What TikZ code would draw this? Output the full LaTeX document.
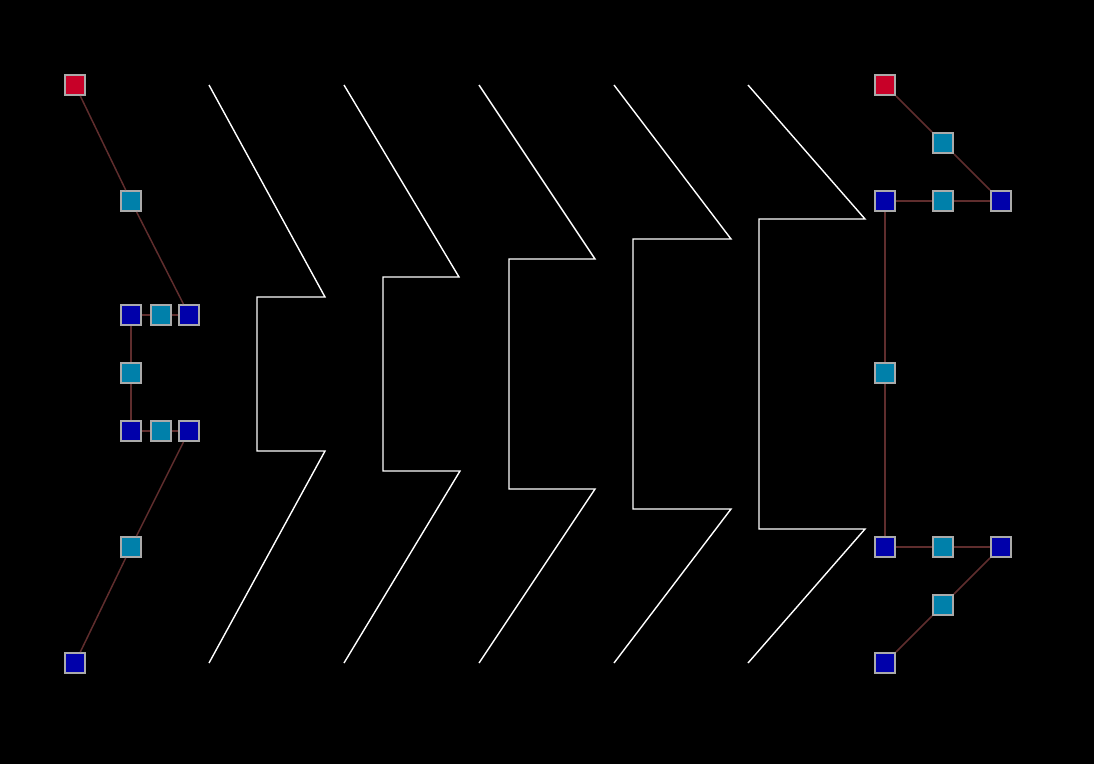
\documentclass[tikz,border=0pt]{standalone}
\definecolor{sqred}{RGB}{200,0,40}
\definecolor{sqteal}{RGB}{0,128,170}
\definecolor{sqblue}{RGB}{0,0,170}
\definecolor{sqgray}{RGB}{170,170,170}
\definecolor{edgebrown}{RGB}{95,45,45}
\tikzset{
  sq/.style={rectangle, draw=sqgray, line width=2.4pt, minimum size=19.6pt, inner sep=0pt},
  rsq/.style={sq, fill=sqred},
  tsq/.style={sq, fill=sqteal},
  bsq/.style={sq, fill=sqblue},
  link/.style={draw=edgebrown, line width=1.5pt},
  zig/.style={draw=white, line width=1.4pt, line join=miter}
}
\begin{document}
\begin{tikzpicture}[x=1pt,y=-1pt]
\fill[black] (0,0) rectangle (1094,764);
\useasboundingbox (0,0) rectangle (1094,764);
% left structure
\node[rsq] (l1) at (75,85) {};
\node[tsq] (l2) at (131,201) {};
\node[bsq] (l3) at (131,315) {};
\node[tsq] (l4) at (161,315) {};
\node[bsq] (l5) at (189,315) {};
\node[tsq] (l6) at (131,373) {};
\node[bsq] (l7) at (131,431) {};
\node[tsq] (l8) at (161,431) {};
\node[bsq] (l9) at (189,431) {};
\node[tsq] (l10) at (131,547) {};
\node[bsq] (l11) at (75,663) {};
\draw[link] (l1) -- (l2);
\draw[link] (l2) -- (l5);
\draw[link] (l3) -- (l4);
\draw[link] (l4) -- (l5);
\draw[link] (l3) -- (l6);
\draw[link] (l6) -- (l7);
\draw[link] (l7) -- (l8);
\draw[link] (l8) -- (l9);
\draw[link] (l9) -- (l10);
\draw[link] (l10) -- (l11);
% right structure
\node[rsq] (r1) at (885,85) {};
\node[tsq] (r2) at (943,143) {};
\node[bsq] (r3) at (885,201) {};
\node[tsq] (r4) at (943,201) {};
\node[bsq] (r5) at (1001,201) {};
\node[tsq] (r6) at (885,373) {};
\node[bsq] (r7) at (885,547) {};
\node[tsq] (r8) at (943,547) {};
\node[bsq] (r9) at (1001,547) {};
\node[tsq] (r10) at (943,605) {};
\node[bsq] (r11) at (885,663) {};
\draw[link] (r1) -- (r2);
\draw[link] (r2) -- (r5);
\draw[link] (r3) -- (r4);
\draw[link] (r4) -- (r5);
\draw[link] (r3) -- (r6);
\draw[link] (r6) -- (r7);
\draw[link] (r7) -- (r8);
\draw[link] (r8) -- (r9);
\draw[link] (r9) -- (r10);
\draw[link] (r10) -- (r11);
% zigzags
\draw[zig] (209,85) -- (325,297) -- (257,297) -- (257,451) -- (325,451) -- (209,663);
\draw[zig] (344,85) -- (459,277) -- (383,277) -- (383,471) -- (460,471) -- (344,663);
\draw[zig] (479,85) -- (595,259) -- (509,259) -- (509,489) -- (595,489) -- (479,663);
\draw[zig] (614,85) -- (731,239) -- (633,239) -- (633,509) -- (731,509) -- (614,663);
\draw[zig] (748,85) -- (865,219) -- (759,219) -- (759,529) -- (865,529) -- (748,663);
\end{tikzpicture}
\end{document}
